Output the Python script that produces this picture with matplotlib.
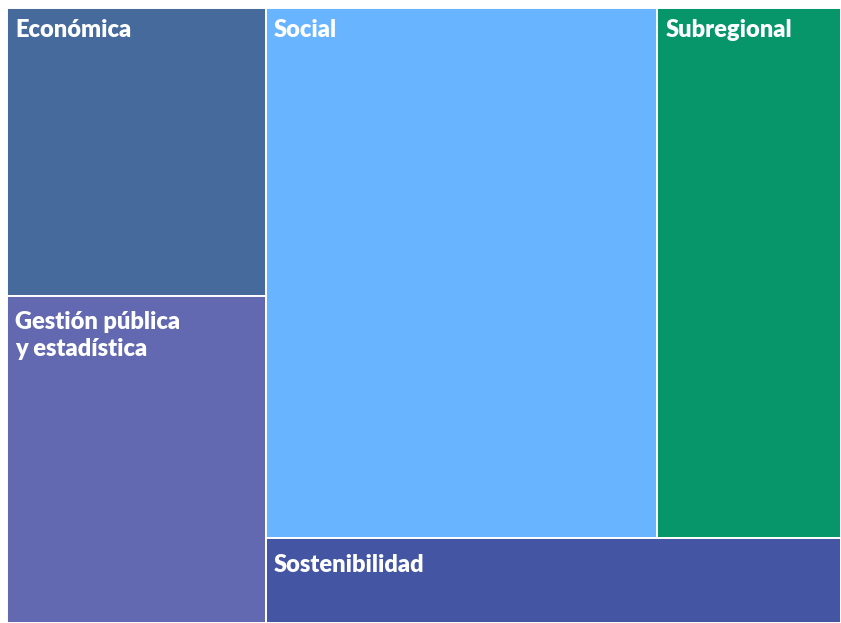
import matplotlib.pyplot as plt
from matplotlib.patches import Rectangle

labels = ["Económica", "Gestión pública\ny estadística", "Social", "Subregional", "Sostenibilidad"]
values = [29, 33, 81, 38, 19]
colors = ["#466a9c", "#6369b0", "#69b4ff", "#06966a", "#4456a3"]


def ratio(a, b):
    return max(a / b, b / a)


def treemap(vals, x, y, w, h):
    # squarified layout, items kept in their given order
    areas = [v * w * h / sum(vals) for v in vals]
    rects = []
    i = 0
    while i < len(areas):
        vertical = w >= h
        side = h if vertical else w
        row = [areas[i]]
        j = i + 1
        while j < len(areas):
            t_old = sum(row) / side
            t_new = (sum(row) + areas[j]) / side
            if ratio(row[-1] / t_new, t_new) < ratio(row[-1] / t_old, t_old):
                row.append(areas[j])
                j += 1
            else:
                break
        t = sum(row) / side
        pos = 0
        for a in row:
            ln = a / t
            if vertical:
                rects.append((x, y + pos, t, ln))
            else:
                rects.append((x + pos, y, ln, t))
            pos += ln
        if vertical:
            x += t
            w -= t
        else:
            y += t
            h -= t
        i = j
    return rects


W, H = 834, 615
fig = plt.figure(figsize=(8.41, 6.23), dpi=100)
ax = fig.add_axes([7 / 841, 0, W / 841, H / 623])
ax.set_xlim(0, W)
ax.set_ylim(H, 0)
ax.axis("off")

for (rx, ry, rw, rh), lab, col in zip(treemap(values, 0, 0, W, H), labels, colors):
    ax.add_patch(Rectangle((rx, ry), rw, rh, facecolor=col, edgecolor="white", lw=1.4))
    dy = -8 if ry < 1 else -11
    ax.annotate(lab, (rx, ry), xytext=(6, dy), textcoords="offset points",
                ha="left", va="top", color="white", fontsize=17, fontweight="heavy",
                family="Lato", linespacing=1.3)

fig.savefig("out.png", dpi=100)
